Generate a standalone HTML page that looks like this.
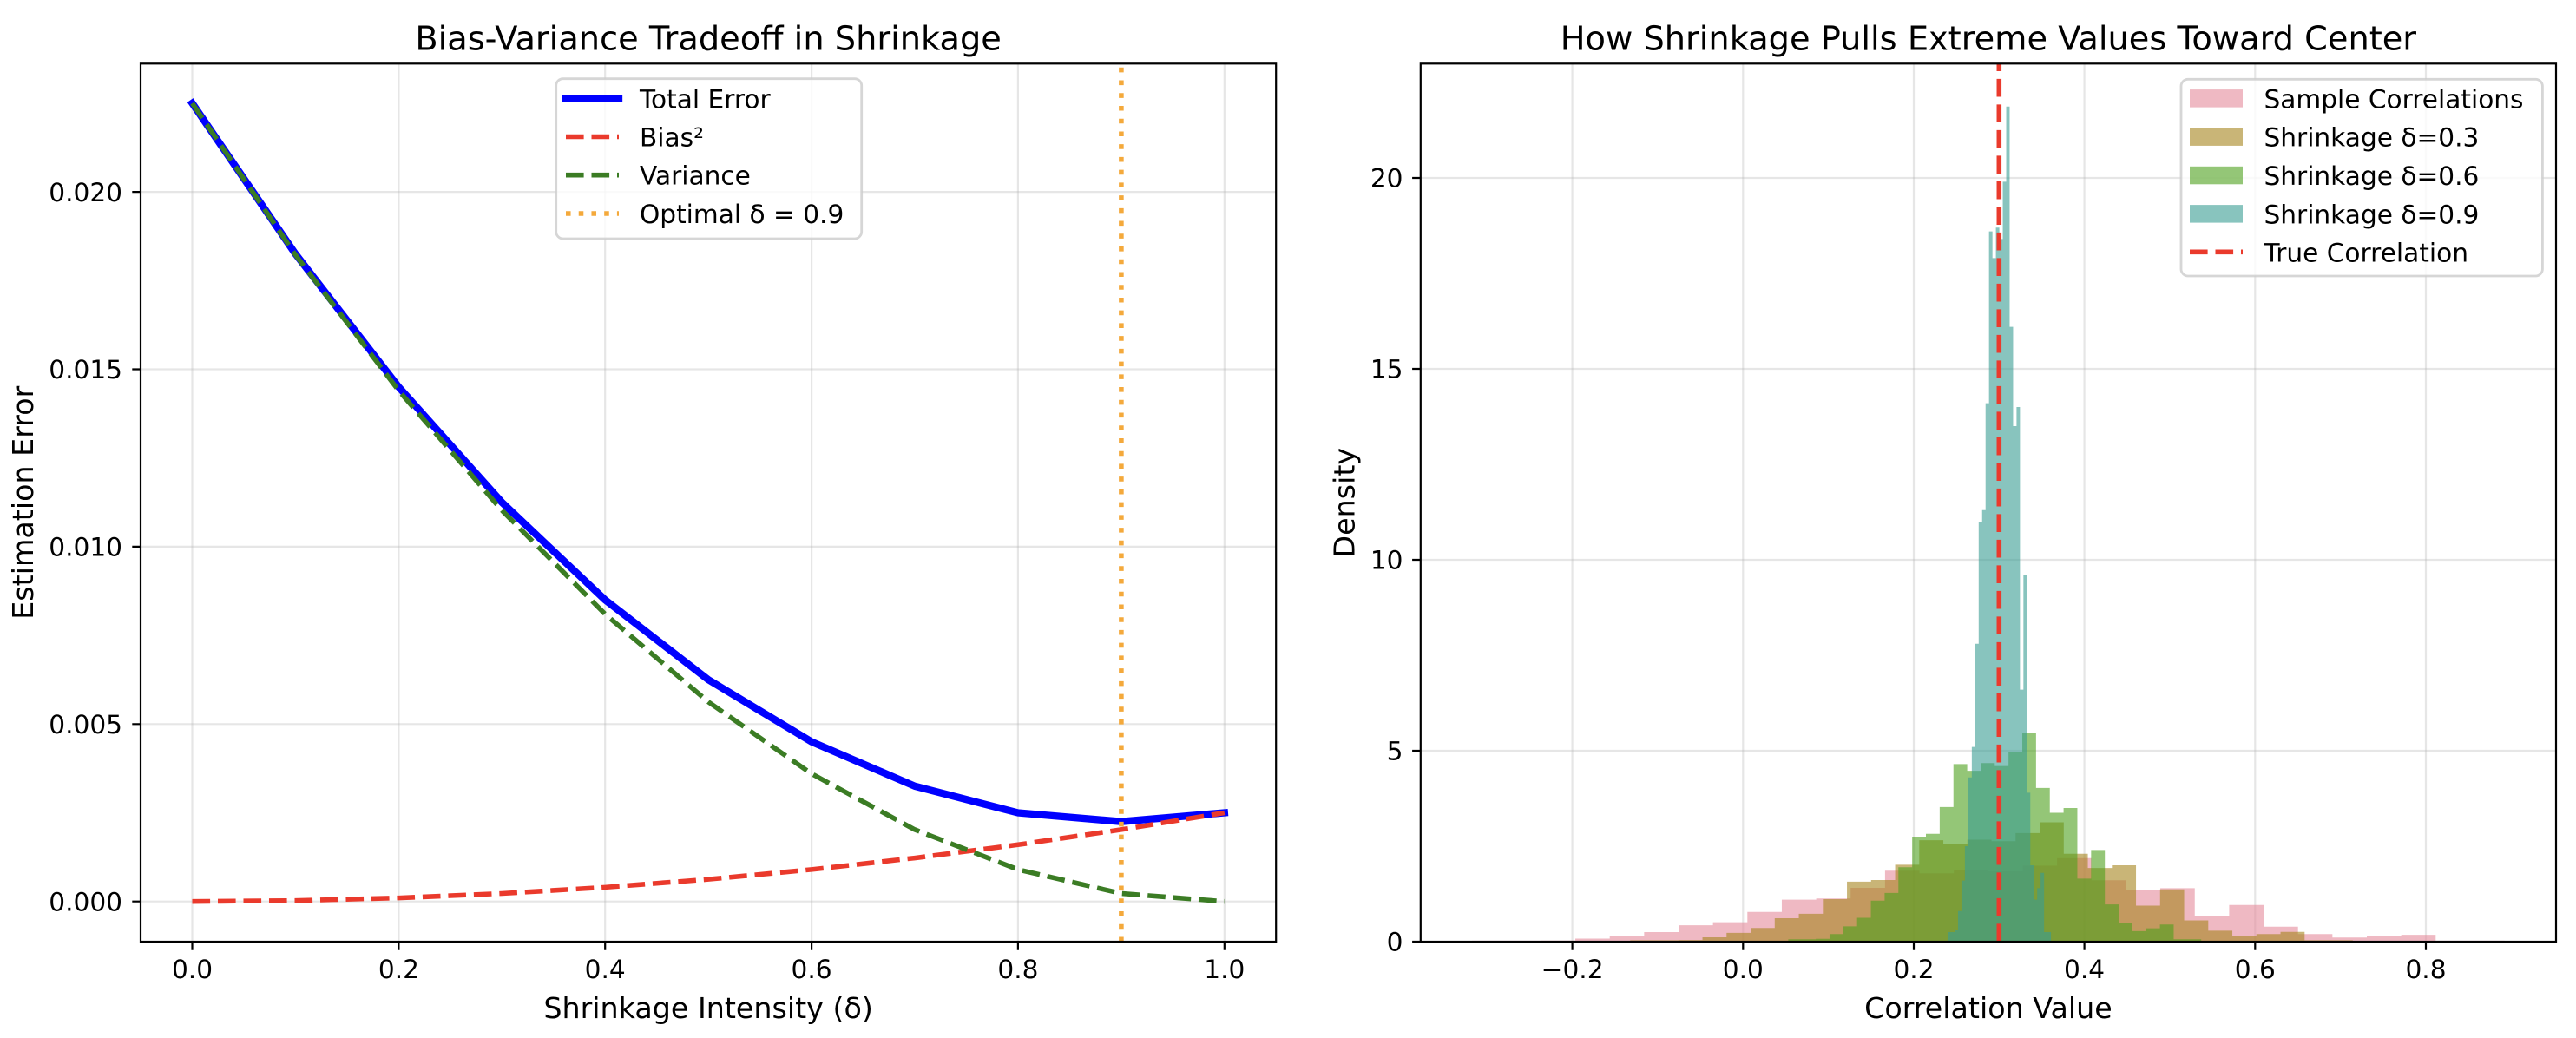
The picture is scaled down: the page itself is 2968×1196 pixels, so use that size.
<!DOCTYPE html>
<html>
<head>
<meta charset="utf-8">
<style>
html,body{margin:0;padding:0;background:#fff;}
svg{display:block;}
text{font-family:"DejaVu Sans","Liberation Sans",sans-serif;fill:#000;}
</style>
</head>
<body>
<svg xmlns="http://www.w3.org/2000/svg" width="2968" height="1196" viewBox="0 0 2968 1196">
<rect x="0" y="0" width="2968" height="1196" fill="#ffffff"/>

<!-- ============ LEFT AXES ============ -->
<!-- grid -->
<g stroke="#b0b0b0" stroke-opacity="0.32" stroke-width="2.2" fill="none">
  <path d="M221.5,73.3V1085 M459.4,73.3V1085 M697.2,73.3V1085 M935.1,73.3V1085 M1172.9,73.3V1085 M1410.8,73.3V1085"/>
  <path d="M162,1038.7H1470.2 M162,834.3H1470.2 M162,629.9H1470.2 M162,425.5H1470.2 M162,221.1H1470.2"/>
</g>

<!-- data lines -->
<polyline fill="none" stroke="#0000ff" stroke-width="8.33" stroke-linecap="square" stroke-linejoin="round"
  points="221.5,118.9 340.43,292.6 459.36,445.9 578.29,578.8 697.22,691.2 816.15,783.2 935.08,854.7 1054.01,905.8 1172.94,936.5 1291.87,946.7 1410.8,936.5"/>
<polyline fill="none" stroke="#ea3a2c" stroke-width="5.56" stroke-linecap="butt" stroke-linejoin="round" stroke-dasharray="20.6 8.9"
  points="221.5,1038.7 340.43,1037.7 459.36,1034.6 578.29,1029.5 697.22,1022.35 816.15,1013.15 935.08,1001.9 1054.01,988.6 1172.94,973.3 1291.87,955.9 1410.8,936.5"/>
<polyline fill="none" stroke="#3b7c24" stroke-width="5.56" stroke-linecap="butt" stroke-linejoin="round" stroke-dasharray="20.6 8.9"
  points="221.5,118.9 340.43,293.7 459.36,450.0 578.29,588.0 697.22,707.6 816.15,808.75 935.08,891.5 1054.01,955.9 1172.94,1001.9 1291.87,1029.5 1410.8,1038.7"/>
<path d="M1291.9,1085V73.3" fill="none" stroke="#f4a93b" stroke-width="5.56" stroke-dasharray="5.56 9.17"/>

<!-- spines -->
<rect x="162" y="73.3" width="1308.2" height="1011.7" fill="none" stroke="#000" stroke-width="2.2"/>

<!-- ticks -->
<g stroke="#000" stroke-width="2.2">
  <path d="M221.5,1085V1094.7 M459.4,1085V1094.7 M697.2,1085V1094.7 M935.1,1085V1094.7 M1172.9,1085V1094.7 M1410.8,1085V1094.7"/>
  <path d="M152.3,1038.7H162 M152.3,834.3H162 M152.3,629.9H162 M152.3,425.5H162 M152.3,221.1H162"/>
</g>
<g font-size="29.6" text-anchor="middle">
  <text x="221.5" y="1127">0.0</text>
  <text x="459.4" y="1127">0.2</text>
  <text x="697.2" y="1127">0.4</text>
  <text x="935.1" y="1127">0.6</text>
  <text x="1172.9" y="1127">0.8</text>
  <text x="1410.8" y="1127">1.0</text>
</g>
<g font-size="29.6" text-anchor="end">
  <text x="141" y="1049.4">0.000</text>
  <text x="141" y="845.0">0.005</text>
  <text x="141" y="640.6">0.010</text>
  <text x="141" y="436.2">0.015</text>
  <text x="141" y="231.8">0.020</text>
</g>

<!-- labels -->
<text x="816.1" y="57.5" font-size="38.3" text-anchor="middle">Bias-Variance Tradeoff in Shrinkage</text>
<text x="816.1" y="1173" font-size="33.3" text-anchor="middle">Shrinkage Intensity (δ)</text>
<text transform="translate(38,579.2) rotate(-90)" x="0" y="0" font-size="33.3" text-anchor="middle">Estimation Error</text>

<!-- legend -->
<rect x="640.7" y="90.7" width="352" height="184.3" rx="8" ry="8" fill="#ffffff" fill-opacity="0.8" stroke="#cccccc" stroke-opacity="0.8" stroke-width="2.8"/>
<path d="M652,113.3H713" stroke="#0000ff" stroke-width="8.33" stroke-linecap="square"/>
<path d="M652,157.5H713" stroke="#ea3a2c" stroke-width="5.56" stroke-dasharray="20.6 8.9"/>
<path d="M652,201.7H713" stroke="#3b7c24" stroke-width="5.56" stroke-dasharray="20.6 8.9"/>
<path d="M652,246H713" stroke="#f4a93b" stroke-width="5.56" stroke-dasharray="5.56 9.17"/>
<g font-size="29.6">
  <text x="737" y="124.3">Total Error</text>
  <text x="737" y="168.5">Bias²</text>
  <text x="737" y="212.7">Variance</text>
  <text x="737" y="257">Optimal δ = 0.9</text>
</g>

<!-- ============ RIGHT AXES ============ -->
<g stroke="#b0b0b0" stroke-opacity="0.32" stroke-width="2.2" fill="none">
  <path d="M1811.6,73.3V1085 M2008.3,73.3V1085 M2205,73.3V1085 M2401.6,73.3V1085 M2598.3,73.3V1085 M2795,73.3V1085"/>
  <path d="M1636.8,865H2945 M1636.8,645H2945 M1636.8,425H2945 M1636.8,205H2945"/>
</g>

<!-- histograms -->
<path fill="#e48a9b" fill-opacity="0.6" d="M1696.1,1085 V1083.9 H1735.75 V1083.9 H1775.4 V1083.7 H1815.05 V1081.5 H1854.7 V1078 H1894.35 V1074 H1934 V1066.1 H1973.65 V1062.6 H2013.3 V1050.7 H2052.95 V1036.6 H2092.6 V1035.3 H2132.25 V1023 H2171.9 V1003.2 H2211.55 V1006.2 H2251.2 V1002.7 H2290.85 V1004 H2330.5 V997.4 H2370.15 V988.8 H2409.8 V1014.2 H2449.45 V1025.6 H2489.1 V1023.4 H2528.75 V1056 H2568.4 V1042.8 H2608.05 V1067.8 H2647.7 V1076.2 H2687.35 V1080.2 H2727 V1078.8 H2766.65 V1077.1 H2806.3 V1083.9 H2845.95 V1083.9 H2885.6 V1085 Z"/>
<path fill="#a5841c" fill-opacity="0.6" d="M1878.3,1085 V1083.4 H1906.05 V1083.4 H1933.8 V1083.1 H1961.55 V1080 H1989.3 V1074.9 H2017.05 V1069.3 H2044.8 V1058 H2072.55 V1052.9 H2100.3 V1036 H2128.05 V1015.9 H2155.8 V1014 H2183.55 V996.4 H2211.3 V968.1 H2239.05 V972.5 H2266.8 V967.5 H2294.55 V969.3 H2322.3 V959.9 H2350.05 V947.5 H2377.8 V983.8 H2405.55 V1000.1 H2433.3 V997 H2461.05 V1043.5 H2488.8 V1024.7 H2516.55 V1060.5 H2544.3 V1072.4 H2572.05 V1078.1 H2599.8 V1076.2 H2627.55 V1073.7 H2655.3 V1083.4 H2683.05 V1083.4 H2710.8 V1085 Z"/>
<path fill="#4da01c" fill-opacity="0.6" d="M2060.4,1085 V1082.25 H2076.26 V1082.25 H2092.12 V1081.7 H2107.98 V1076.2 H2123.84 V1067.4 H2139.7 V1057.5 H2155.56 V1037.7 H2171.42 V1028.9 H2187.28 V999.2 H2203.14 V964 H2219 V960.7 H2234.86 V929.9 H2250.72 V880.4 H2266.58 V888.1 H2282.44 V879.3 H2298.3 V882.6 H2314.16 V866.1 H2330.02 V844.4 H2345.88 V907.9 H2361.74 V936.5 H2377.6 V931 H2393.46 V1012.4 H2409.32 V979.4 H2425.18 V1042.1 H2441.04 V1063 H2456.9 V1072.9 H2472.76 V1069.6 H2488.62 V1065.2 H2504.48 V1082.25 H2520.34 V1082.25 H2536.2 V1085 Z"/>
<path fill="#399d93" fill-opacity="0.6" d="M2244.1,1085 V1074 H2248.07 V1074 H2252.03 V1071.8 H2256 V1049.8 H2259.96 V1014.6 H2263.93 V975 H2267.89 V895.8 H2271.86 V860.6 H2275.82 V741.8 H2279.79 V601 H2283.75 V587.8 H2287.72 V464.6 H2291.68 V266.6 H2295.65 V297.4 H2299.61 V262.2 H2303.58 V275.4 H2307.54 V209.4 H2311.51 V122.7 H2315.47 V376.6 H2319.44 V491 H2323.4 V469 H2327.37 V794.6 H2331.33 V662.6 H2335.3 V913.4 H2339.26 V997 H2343.23 V1036.6 H2347.19 V1023.4 H2351.16 V1005.8 H2355.12 V1074 H2359.09 V1074 H2363.05 V1085 Z"/>

<!-- true correlation -->
<path d="M2303.3,1085V73.3" fill="none" stroke="#ea3a2c" stroke-width="5.56" stroke-dasharray="20.6 8.9"/>

<!-- spines -->
<rect x="1636.8" y="73.3" width="1308.2" height="1011.7" fill="none" stroke="#000" stroke-width="2.2"/>

<!-- ticks -->
<g stroke="#000" stroke-width="2.2">
  <path d="M1811.6,1085V1094.7 M2008.3,1085V1094.7 M2205,1085V1094.7 M2401.6,1085V1094.7 M2598.3,1085V1094.7 M2795,1085V1094.7"/>
  <path d="M1627.1,1085H1636.8 M1627.1,865H1636.8 M1627.1,645H1636.8 M1627.1,425H1636.8 M1627.1,205H1636.8"/>
</g>
<g font-size="29.6" text-anchor="middle">
  <text x="1811.6" y="1127">−0.2</text>
  <text x="2008.3" y="1127">0.0</text>
  <text x="2205" y="1127">0.2</text>
  <text x="2401.6" y="1127">0.4</text>
  <text x="2598.3" y="1127">0.6</text>
  <text x="2795" y="1127">0.8</text>
</g>
<g font-size="29.6" text-anchor="end">
  <text x="1616.5" y="1095.7">0</text>
  <text x="1616.5" y="875.7">5</text>
  <text x="1616.5" y="655.7">10</text>
  <text x="1616.5" y="435.7">15</text>
  <text x="1616.5" y="215.7">20</text>
</g>

<!-- labels -->
<text x="2290.9" y="57.5" font-size="38.3" text-anchor="middle">How Shrinkage Pulls Extreme Values Toward Center</text>
<text x="2290.9" y="1173" font-size="33.3" text-anchor="middle">Correlation Value</text>
<text transform="translate(1560.5,579.2) rotate(-90)" x="0" y="0" font-size="33.3" text-anchor="middle">Density</text>

<!-- legend -->
<rect x="2513" y="91.3" width="416.4" height="226.7" rx="8" ry="8" fill="#ffffff" fill-opacity="0.8" stroke="#cccccc" stroke-opacity="0.8" stroke-width="2.8"/>
<rect x="2523" y="103.1" width="61" height="20.5" fill="#e48a9b" fill-opacity="0.6"/>
<rect x="2523" y="147.4" width="61" height="20.5" fill="#a5841c" fill-opacity="0.6"/>
<rect x="2523" y="191.8" width="61" height="20.5" fill="#4da01c" fill-opacity="0.6"/>
<rect x="2523" y="236.1" width="61" height="20.5" fill="#399d93" fill-opacity="0.6"/>
<path d="M2523,290.3H2584" stroke="#ea3a2c" stroke-width="5.56" stroke-dasharray="20.6 8.9"/>
<g font-size="29.6">
  <text x="2608.5" y="124.3">Sample Correlations</text>
  <text x="2608.5" y="168.7">Shrinkage δ=0.3</text>
  <text x="2608.5" y="213">Shrinkage δ=0.6</text>
  <text x="2608.5" y="257.3">Shrinkage δ=0.9</text>
  <text x="2608.5" y="301.3">True Correlation</text>
</g>
</svg>
</body>
</html>
